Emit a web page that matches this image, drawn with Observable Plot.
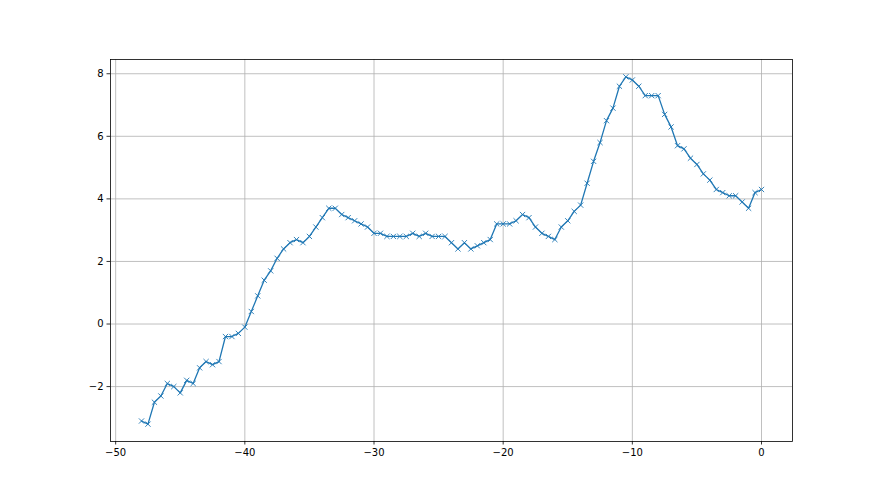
<!DOCTYPE html>
<html>
<head>
<meta charset="utf-8">
<script src="https://cdn.jsdelivr.net/npm/d3@7"></script>
<script src="https://cdn.jsdelivr.net/npm/@observablehq/plot@0.6"></script>
<style>
  html, body { margin: 0; padding: 0; background: #ffffff; }
  #chart { width: 880px; height: 495px; }
</style>
</head>
<body>
<div id="chart"></div>
<script>
const xValues = [
  -48, -47.5, -47, -46.5, -46, -45.5, -45, -44.5, -44, -43.5,
  -43, -42.5, -42, -41.5, -41, -40.5, -40, -39.5, -39, -38.5,
  -38, -37.5, -37, -36.5, -36, -35.5, -35, -34.5, -34, -33.5,
  -33, -32.5, -32, -31.5, -31, -30.5, -30, -29.5, -29, -28.5,
  -28, -27.5, -27, -26.5, -26, -25.5, -25, -24.5, -24, -23.5,
  -23, -22.5, -22, -21.5, -21, -20.5, -20, -19.5, -19, -18.5,
  -18, -17.5, -17, -16.5, -16, -15.5, -15, -14.5, -14, -13.5,
  -13, -12.5, -12, -11.5, -11, -10.5, -10, -9.5, -9, -8.5,
  -8, -7.5, -7, -6.5, -6, -5.5, -5, -4.5, -4, -3.5,
  -3, -2.5, -2, -1.5, -1, -0.5, 0
];
const yValues = [
  -3.1, -3.2, -2.5, -2.3, -1.9, -2.0, -2.2, -1.8, -1.9, -1.4,
  -1.2, -1.3, -1.2, -0.4, -0.4, -0.3, -0.1, 0.4, 0.9, 1.4,
  1.7, 2.1, 2.4, 2.6, 2.7, 2.6, 2.8, 3.1, 3.4, 3.7,
  3.7, 3.5, 3.4, 3.3, 3.2, 3.1, 2.9, 2.9, 2.8, 2.8,
  2.8, 2.8, 2.9, 2.8, 2.9, 2.8, 2.8, 2.8, 2.6, 2.4,
  2.6, 2.4, 2.5, 2.6, 2.7, 3.2, 3.2, 3.2, 3.3, 3.5,
  3.4, 3.1, 2.9, 2.8, 2.7, 3.1, 3.3, 3.6, 3.8, 4.5,
  5.2, 5.8, 6.5, 6.9, 7.6, 7.9, 7.8, 7.6, 7.3, 7.3,
  7.3, 6.7, 6.3, 5.7, 5.6, 5.3, 5.1, 4.8, 4.6, 4.3,
  4.2, 4.1, 4.1, 3.9, 3.7, 4.2, 4.3
];
const xTicks = [-50, -40, -30, -20, -10, 0];
const yTicks = [-2, 0, 2, 4, 6, 8];

const data = xValues.map((x, i) => ({x, y: yValues[i]}));

// matplotlib-like 5% margins
const xmin = d3.min(xValues), xmax = d3.max(xValues);
const ymin = d3.min(yValues), ymax = d3.max(yValues);
const xpad = (xmax - xmin) * 0.05, ypad = (ymax - ymin) * 0.05;

const fmt = d => d < 0 ? "\u2212" + (-d) : String(d);

const chart = Plot.plot({
  width: 880,
  height: 495,
  marginLeft: 110,
  marginRight: 88,
  marginTop: 59,
  marginBottom: 54,
  style: {background: "#ffffff", fontFamily: "DejaVu Sans", fontSize: "10px", color: "#000"},
  x: {domain: [xmin - xpad, xmax + xpad]},
  y: {domain: [ymin - ypad, ymax + ypad]},
  marks: [
    Plot.gridX(xTicks, {stroke: "#b0b0b0", strokeOpacity: 1, strokeWidth: 0.8}),
    Plot.gridY(yTicks, {stroke: "#b0b0b0", strokeOpacity: 1, strokeWidth: 0.8}),
    Plot.axisX(xTicks, {tickSize: 3.5, tickPadding: 3.5, tickFormat: fmt, label: null, stroke: "#000", strokeWidth: 0.8}),
    Plot.axisY(yTicks, {tickSize: 3.5, tickPadding: 3.5, tickFormat: fmt, label: null, stroke: "#000", strokeWidth: 0.8}),
    Plot.line(data, {x: "x", y: "y", stroke: "#1f77b4", strokeWidth: 1.3}),
    Plot.dot(data, {x: "x", y: "y", symbol: "times", r: 2.5, stroke: "#1f77b4", strokeWidth: 0.9}),
    Plot.frame({stroke: "#000", strokeWidth: 0.8})
  ]
});
document.getElementById("chart").appendChild(chart);
</script>
</body>
</html>
